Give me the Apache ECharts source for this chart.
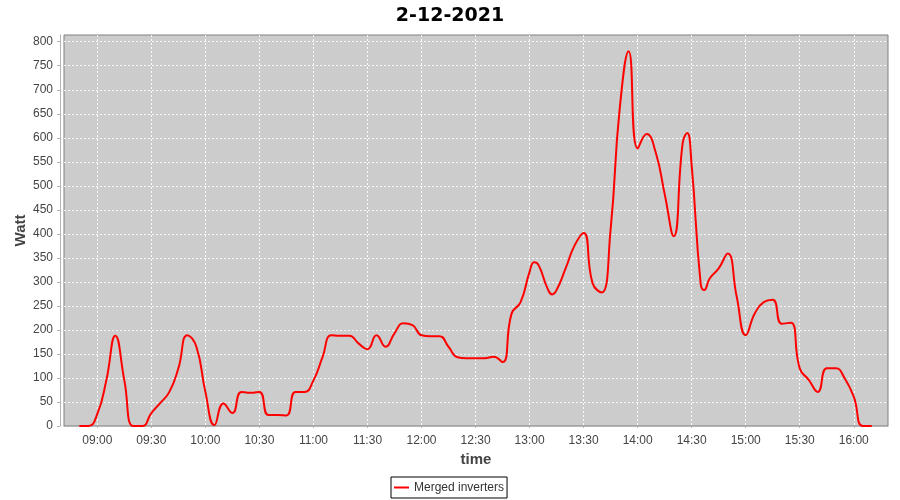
<!DOCTYPE html>
<html>
<head>
<meta charset="utf-8">
<script src="https://cdn.jsdelivr.net/npm/echarts@6/dist/echarts.min.js"></script>
<style>html,body{margin:0;padding:0;background:#fff}#c{width:900px;height:500px}</style>
</head>
<body>
<div id="c"></div>
<script>
const chartTitle = '2-12-2021';
const seriesName = 'Merged inverters';
const xName = 'time';
const yName = 'Watt';
const xRange = ['08:41:30', '16:19:00'];
const xTickLabels = ['09:00','09:30','10:00','10:30','11:00','11:30','12:00','12:30','13:00','13:30','14:00','14:30','15:00','15:30','16:00'];
const yRange = [0, 814];
const yTickLabels = [0,50,100,150,200,250,300,350,400,450,500,550,600,650,700,750,800];

const times = ['08:50','08:55','09:00','09:05','09:10','09:15','09:20','09:25','09:30','09:35','09:40','09:45','09:50','09:55',
  '10:00','10:05','10:10','10:15','10:20','10:25','10:30','10:35','10:40','10:45','10:50','10:55',
  '11:00','11:05','11:10','11:15','11:20','11:25','11:30','11:35','11:40','11:45','11:50','11:55',
  '12:00','12:05','12:10','12:15','12:20','12:25','12:30','12:35','12:40','12:45','12:50','12:55',
  '13:00','13:02:30','13:05','13:10','13:12:30','13:15','13:20','13:25','13:30','13:35','13:40','13:45','13:50','13:55',
  '14:00','14:05','14:10','14:15','14:20','14:25','14:27:30','14:30','14:35','14:37','14:40','14:45','14:50','14:55',
  '15:00','15:05','15:10','15:15','15:20','15:25','15:30','15:35','15:40','15:45','15:50','15:55',
  '16:00','16:05','16:10'];
const watts = [0,0,25,95,188,95,0,0,27,48,71,120,189,165,
  71,2,47,27,71,69,71,23,23,22,71,71,
  95,143,189,188,188,172,160,189,165,193,214,210,
  189,187,187,165,143,141,141,141,144,133,234,258,
  321,341,335,286,274,283,328,376,402,297,278,410,659,780,
  578,608,570,483,395,589,610,542,296,283,307,328,359,269,
  189,234,258,263,213,215,120,96,71,120,120,99,
  61,0,0];

// minutes since midnight
function mins(s) {
  const p = s.split(':').map(Number);
  return p[0] * 60 + p[1] + (p[2] || 0) / 60;
}
function pad(n) { return (n < 10 ? '0' : '') + n; }
function fmt(v) {
  const m = Math.round(v);
  return pad(Math.floor(m / 60)) + ':' + pad(m % 60);
}

const data = times.map((t, i) => [mins(t), watts[i]]);
const xTicks = xTickLabels.map(mins);

const chart = echarts.init(document.getElementById('c'), null, {renderer: 'canvas'});
const labelFont = 'Liberation Sans';
chart.setOption({
  animation: false,
  backgroundColor: '#ffffff',
  title: {
    text: chartTitle,
    left: 'center',
    top: 2,
    textStyle: {fontFamily: 'DejaVu Sans', fontWeight: 'bold', fontSize: 19, color: '#000000'}
  },
  legend: {
    data: [seriesName],
    left: 391,
    top: 477,
    orient: 'horizontal',
    padding: [3, 3, 3, 3],
    borderColor: '#000000',
    borderWidth: 1,
    borderRadius: 0,
    itemWidth: 15,
    itemHeight: 2,
    icon: 'rect',
    textStyle: {fontFamily: labelFont, fontSize: 12, color: '#333333', lineHeight: 15}
  },
  grid: {
    left: 64, right: 12, top: 35, bottom: 74,
    show: true,
    backgroundColor: '#cccccc',
    borderColor: '#808080',
    borderWidth: 1,
    containLabel: false,
    outerBoundsMode: 'none'
  },
  xAxis: {
    type: 'value',
    min: mins(xRange[0]),
    max: mins(xRange[1]),
    offset: 4,
    name: xName,
    nameLocation: 'middle',
    nameGap: 22,
    nameMoveOverlap: false,
    nameTextStyle: {fontFamily: labelFont, fontWeight: 'bold', fontSize: 15, color: '#444444'},
    axisLine: {show: true, lineStyle: {color: '#b4b4b4', width: 1}},
    axisTick: {show: true, length: 2, customValues: xTicks, lineStyle: {color: '#b4b4b4'}},
    axisLabel: {
      fontFamily: labelFont, fontSize: 12, color: '#444444', margin: 5,
      customValues: xTicks,
      formatter: fmt
    },
    splitLine: {show: true, lineStyle: {color: '#ffffff', type: [2, 2], width: 1, opacity: 0.85}}
  },
  yAxis: {
    type: 'value',
    min: yRange[0],
    max: yRange[1],
    offset: 4,
    name: yName,
    nameLocation: 'middle',
    nameRotate: 90,
    nameGap: 32,
    nameMoveOverlap: false,
    nameTextStyle: {fontFamily: labelFont, fontWeight: 'bold', fontSize: 15, color: '#444444'},
    axisLine: {show: true, lineStyle: {color: '#b4b4b4', width: 1}},
    axisTick: {show: true, length: 3, customValues: yTickLabels, lineStyle: {color: '#b4b4b4'}},
    axisLabel: {
      fontFamily: labelFont, fontSize: 12, color: '#444444', margin: 7,
      customValues: yTickLabels
    },
    splitLine: {show: true, lineStyle: {color: '#ffffff', type: [2, 2], width: 1, opacity: 0.85}}
  },
  series: [{
    name: seriesName,
    type: 'line',
    data: data,
    smooth: 0.5,
    showSymbol: false,
    symbol: 'none',
    clip: true,
    lineStyle: {color: '#ff0000', width: 2},
    itemStyle: {color: '#ff0000'}
  }]
});
</script>
</body>
</html>
